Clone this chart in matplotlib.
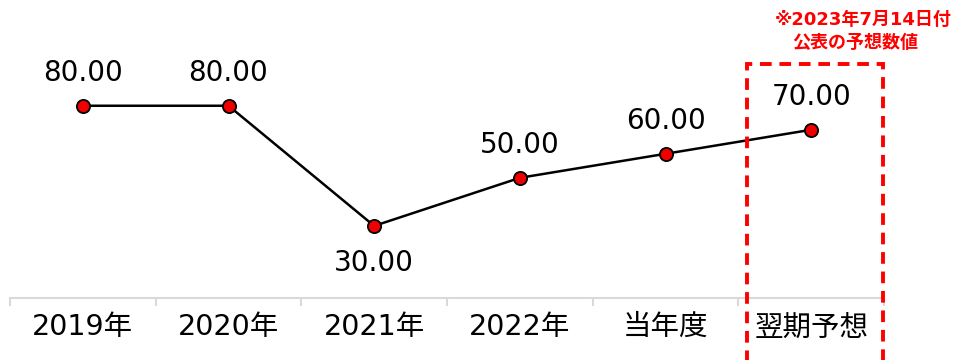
import matplotlib
matplotlib.use("Agg")
import matplotlib.pyplot as plt
from matplotlib.patches import Rectangle

plt.rcParams['font.family'] = ['DejaVu Sans', 'Noto Sans CJK JP']

categories = ["2019年", "2020年", "2021年", "2022年", "当年度", "翌期予想"]
values = [80.00, 80.00, 30.00, 50.00, 60.00, 70.00]
label_below = [False, False, True, False, False, False]
note_lines = ["※2023年7月14日付", "公表の予想数値"]

fig = plt.figure(figsize=(9.59, 3.6), dpi=100)
ax = fig.add_axes([10/959, 62/360, 874/959, 298/360])
x = list(range(len(categories)))
ax.plot(x, values, color='black', lw=1.8, marker='o', markersize=9.5,
        markerfacecolor='#ee0000', markeredgecolor='black', markeredgewidth=1.3, zorder=3)

for xi, v, below in zip(x, values, label_below):
    ax.annotate(f"{v:.2f}", (xi, v), xytext=(0, -37 if below else 33), textcoords='offset pixels',
                ha='center', va='center', fontsize=20, color='black')

ax.set_xlim(-0.5, 5.5)
ax.set_ylim(0, 124)
for s in ['top', 'right', 'left']:
    ax.spines[s].set_visible(False)
ax.spines['bottom'].set_color('#d9d9d9')
ax.spines['bottom'].set_linewidth(1.5)
ax.set_yticks([])
ax.set_xticks([i - 0.5 for i in range(len(categories) + 1)])
ax.set_xticklabels([])
ax.set_xticks(x, minor=True)
ax.set_xticklabels(categories, minor=True, fontsize=20.5)
ax.tick_params(axis='x', which='major', length=6, color='#d9d9d9', width=1.5)
ax.tick_params(axis='x', which='minor', length=0, pad=11)

rect = Rectangle((4.56, -40), 0.93, 137.5, fill=False, edgecolor='#ff0000', lw=2.8,
                 linestyle=(0, (3, 2)), clip_on=False, zorder=4)
ax.add_patch(rect)
ax.text(5.36, 115.5, note_lines[0], color='#ff0000', fontsize=13, ha='center', va='center', fontweight='bold')
ax.text(5.3, 106, note_lines[1], color='#ff0000', fontsize=13, ha='center', va='center', fontweight='bold')

fig.savefig("out.png", dpi=100)
